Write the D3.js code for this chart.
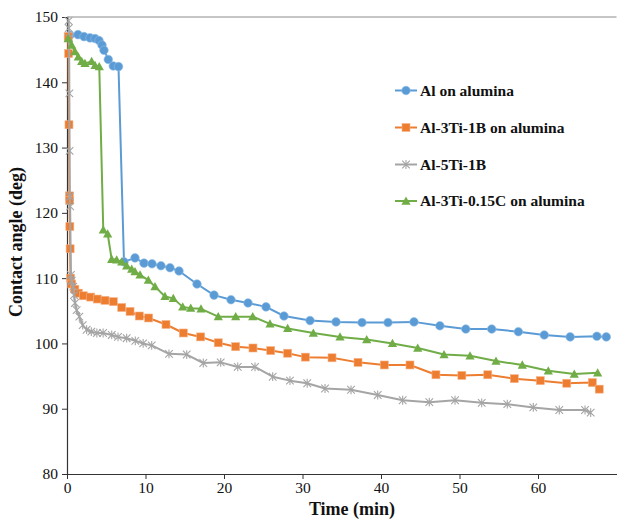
<!DOCTYPE html>
<html><head><meta charset="utf-8">
<script src="https://cdn.jsdelivr.net/npm/d3@7"></script>
<style>body{margin:0;background:#fff}svg{display:block}text{font-family:"Liberation Serif","Times New Roman",serif}</style>
</head><body><svg id="c" width="626" height="521"></svg>
<script>
// ---- data ----
const seriesNames = ["Al on alumina", "Al-3Ti-1B on alumina", "Al-5Ti-1B", "Al-3Ti-0.15C on alumina"];
const xTicks = [0, 10, 20, 30, 40, 50, 60];
const yTicks = [80, 90, 100, 110, 120, 130, 140, 150];

const alTime  = [0.38,1.4,2.17,2.93,3.57,4.08,4.46,4.71,5.26,5.9,6.56,7.26,8.66,9.81,10.83,11.97,13.12,14.27,16.56,18.73,20.89,23.06,25.35,27.64,30.96,34.27,37.58,40.89,44.2,47.5,50.8,54.1,57.5,60.8,64.1,67.5,68.7];
const alAngle = [147.2,147.3,147.0,146.8,146.7,146.4,145.7,144.9,143.5,142.5,142.4,112.5,113.1,112.3,112.2,111.9,111.6,111.1,109.1,107.4,106.7,106.2,105.6,104.2,103.5,103.3,103.2,103.2,103.3,102.7,102.2,102.2,101.8,101.3,101.0,101.1,101.0];

const tibTime  = [0.15,0.2,0.25,0.3,0.33,0.36,0.4,0.45,0.6,1.0,1.44,2.08,3.02,3.86,4.84,5.9,6.97,8.03,9.21,10.4,12.61,14.82,17.03,19.27,21.49,23.69,25.95,28.11,30.36,33.76,37.07,40.42,43.69,47.0,50.3,53.6,56.98,60.29,63.66,66.92,67.8];
const tibAngle = [147.0,144.4,133.5,122.6,121.9,117.9,114.5,110.0,109.1,108.3,107.7,107.3,107.1,106.8,106.6,106.4,105.5,104.9,104.2,103.9,102.9,101.6,101.0,100.1,99.5,99.3,98.9,98.5,97.9,97.8,97.1,96.7,96.7,95.2,95.1,95.2,94.6,94.3,93.9,94.0,93.0];

const ti5Time  = [0.2,0.23,0.27,0.3,0.33,0.36,0.4,0.5,0.6,0.8,0.89,1.02,1.23,1.57,2.0,2.5,3.1,3.8,4.6,5.7,6.5,7.6,8.7,9.7,10.79,12.99,15.25,17.36,19.58,21.75,23.95,26.2,28.4,30.6,32.87,36.18,39.58,42.76,46.15,49.43,52.83,56.09,59.4,62.71,65.99,66.71];
const ti5Angle = [149.4,148.3,146.8,138.3,129.5,122.5,121.0,110.5,109.6,108.7,107.4,106.2,105.1,104.1,102.8,102.1,101.8,101.6,101.6,101.3,101.0,100.8,100.4,100.0,99.7,98.4,98.3,97.0,97.1,96.4,96.4,94.9,94.3,93.9,93.1,92.9,92.1,91.3,91.0,91.3,90.9,90.7,90.2,89.8,89.8,89.4];

const ticTime  = [0.15,0.6,1.02,1.44,1.87,2.29,3.14,3.57,4.11,4.62,5.18,5.69,6.33,6.97,7.6,8.24,8.66,9.3,10.36,11.21,12.48,13.54,14.74,15.76,17.07,19.27,21.49,23.66,25.86,28.11,31.38,34.78,38.18,41.46,44.68,48.03,51.34,54.65,58.0,61.31,64.62,67.6];
const ticAngle = [146.7,145.7,144.7,143.9,143.2,142.9,143.2,142.6,142.4,117.4,116.8,112.9,112.8,112.5,111.9,111.4,111.0,110.5,109.7,108.7,107.2,106.9,105.6,105.4,105.3,104.1,104.1,104.1,103.0,102.3,101.6,101.0,100.6,100.0,99.3,98.3,98.1,97.3,96.7,95.8,95.3,95.5];

// ---- drawing ----
const svg = d3.select("#c");
const x = d3.scaleLinear().domain([0, 70]).range([67, 616.5]);
const y = d3.scaleLinear().domain([80, 150]).range([474, 17]);
const colors = ["#5B9BD5", "#ED7D31", "#A5A5A5", "#70AD47"];
const markers = ["circle", "square", "star", "triangle"];

// top border line
svg.append("line").attr("x1", x(0)).attr("x2", x(70)).attr("y1", y(150)).attr("y2", y(150))
  .attr("stroke", "#8c8c8c").attr("stroke-width", 1);

const xAxis = svg.append("g").attr("transform", `translate(0,${y(80)})`)
  .call(d3.axisBottom(x).tickValues(xTicks).tickSize(5).tickSizeOuter(0).tickPadding(3));
const yAxis = svg.append("g").attr("transform", `translate(${x(0)},0)`)
  .call(d3.axisLeft(y).tickValues(yTicks).tickSize(5).tickSizeOuter(0).tickPadding(4));
[xAxis, yAxis].forEach(g => {
  g.select(".domain").attr("stroke", "#333").attr("stroke-width", 1.2);
  g.selectAll(".tick line").attr("stroke", "#333");
  g.selectAll(".tick text").style("font-family", "'Liberation Serif', serif").attr("font-size", 15.5).attr("fill", "#111");
});

svg.append("text").attr("x", 352).attr("y", 515).attr("text-anchor", "middle")
  .attr("font-size", 18).attr("font-weight", "bold").attr("fill", "#111").text("Time (min)");
svg.append("text").attr("transform", "translate(22,242) rotate(-90)").attr("text-anchor", "middle")
  .attr("font-size", 18).attr("font-weight", "bold").attr("fill", "#111").text("Contact angle (deg)");

function drawMarker(g, type, cx, cy, color) {
  if (type === "circle") {
    g.append("circle").attr("cx", cx).attr("cy", cy).attr("r", 4.3).attr("fill", color)
      .attr("stroke", "#8fbde6").attr("stroke-width", 0.6);
  } else if (type === "square") {
    g.append("rect").attr("x", cx - 4).attr("y", cy - 4).attr("width", 8).attr("height", 8)
      .attr("fill", color).attr("stroke", "#f5b48a").attr("stroke-width", 0.6);
  } else if (type === "triangle") {
    const s = 4.6;
    g.append("path").attr("d", `M${cx},${cy - s}L${cx + s},${cy + s * 0.8}L${cx - s},${cy + s * 0.8}Z`)
      .attr("fill", color);
  } else {
    const s = 3.8;
    g.append("path").attr("d", `M${cx - s},${cy - s}L${cx + s},${cy + s}M${cx - s},${cy + s}L${cx + s},${cy - s}M${cx},${cy - s - 0.6}L${cx},${cy + s + 0.6}`)
      .attr("stroke", color).attr("stroke-width", 1.1).attr("fill", "none");
  }
}

const seriesData = [
  d3.zip(alTime, alAngle), d3.zip(tibTime, tibAngle), d3.zip(ti5Time, ti5Angle), d3.zip(ticTime, ticAngle)
];
const line = d3.line().x(d => x(d[0])).y(d => y(d[1]));

seriesData.forEach((data, i) => {
  const g = svg.append("g");
  g.append("path").datum(data).attr("d", line).attr("fill", "none")
    .attr("stroke", colors[i]).attr("stroke-width", 2).attr("stroke-linejoin", "round");
  data.forEach(d => drawMarker(g, markers[i], x(d[0]), y(d[1]), colors[i]));
});

// legend
const legY = [90.5, 127.5, 164.5, 201];
seriesNames.forEach((name, i) => {
  const g = svg.append("g");
  g.append("line").attr("x1", 395).attr("x2", 417).attr("y1", legY[i]).attr("y2", legY[i])
    .attr("stroke", colors[i]).attr("stroke-width", 2);
  drawMarker(g, markers[i], 406, legY[i], colors[i]);
  g.append("text").attr("x", 420).attr("y", legY[i] + 5).attr("font-size", 15.5)
    .attr("font-weight", "bold").attr("fill", "#111").text(name);
});
</script></body></html>
